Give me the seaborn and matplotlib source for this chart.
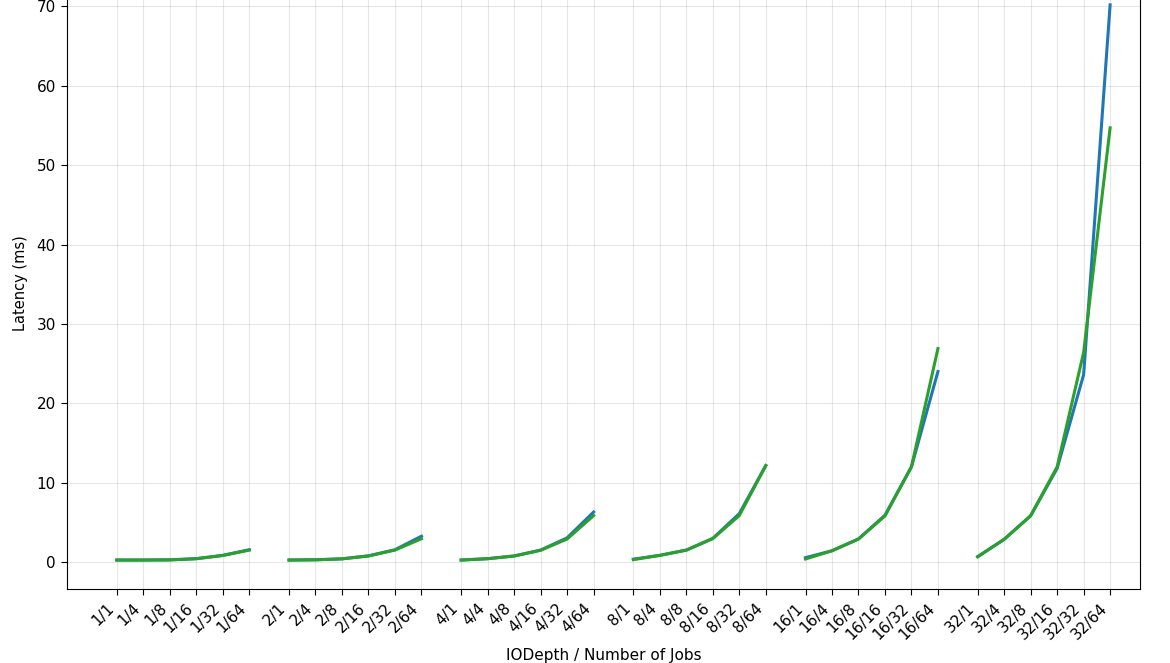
import pandas as pd
import seaborn as sns
import matplotlib.pyplot as plt

# IODepth groups and number-of-jobs values on the x axis
iodepths = [1, 2, 4, 8, 16, 32]
numjobs = [1, 4, 8, 16, 32, 64]

# Latency (ms), one row per iodepth, one column per numjobs
lat_run1 = [
    [0.25, 0.25, 0.27, 0.42, 0.84, 1.55],
    [0.25, 0.28, 0.40, 0.78, 1.55, 3.25],
    [0.25, 0.42, 0.76, 1.50, 3.05, 6.30],
    [0.36, 0.84, 1.50, 2.98, 6.10, 12.15],
    [0.55, 1.42, 2.90, 5.90, 12.00, 24.00],
    [0.67, 2.86, 5.83, 11.80, 23.60, 70.20],
]
lat_run2 = [
    [0.25, 0.25, 0.27, 0.42, 0.82, 1.50],
    [0.25, 0.28, 0.40, 0.76, 1.50, 2.94],
    [0.25, 0.42, 0.76, 1.48, 2.90, 5.85],
    [0.30, 0.84, 1.50, 2.95, 5.85, 12.15],
    [0.38, 1.42, 2.90, 5.80, 12.00, 26.90],
    [0.67, 2.86, 5.83, 12.00, 26.40, 54.70],
]
series_names = ['Run 1', 'Run 2']
colors = ['#1f77b4', '#2ca02c']

# long table; groups of 6 points separated by a 1.5 slot gap
rows = []
for name, values in zip(series_names, [lat_run1, lat_run2]):
    for g, depth in enumerate(iodepths):
        for j, jobs in enumerate(numjobs):
            rows.append({'series': name, 'iodepth': depth,
                         'pos': g * 6.5 + j, 'label': f'{depth}/{jobs}',
                         'latency': values[g][j]})
df = pd.DataFrame(rows)

fig = plt.figure(figsize=(11.7, 6.63), dpi=100)
ax = fig.add_axes((0.0573, 0.1116, 0.9171, 0.923))

sns.lineplot(data=df, x='pos', y='latency', hue='series', units='iodepth',
             estimator=None, palette=colors, linewidth=2.2, legend=False, ax=ax)

ticks = df[df['series'] == series_names[0]]
ax.set_xticks(ticks['pos'])
ax.set_xticklabels(ticks['label'], rotation=45, ha='right', fontsize=11)
ax.set_xlim(-1.88, 38.63)
ax.set_ylim(-3.4, 73.7)
ax.set_yticks(range(0, 71, 10))
ax.tick_params(axis='y', labelsize=11, length=4.5)
ax.tick_params(axis='x', length=4.5, pad=4)
ax.grid(True, alpha=0.3)
ax.set_xlabel('IODepth / Number of Jobs', fontsize=11, labelpad=4)
ax.set_ylabel('Latency (ms)', fontsize=10.5, labelpad=6)

fig.savefig('out.png', dpi=100)
